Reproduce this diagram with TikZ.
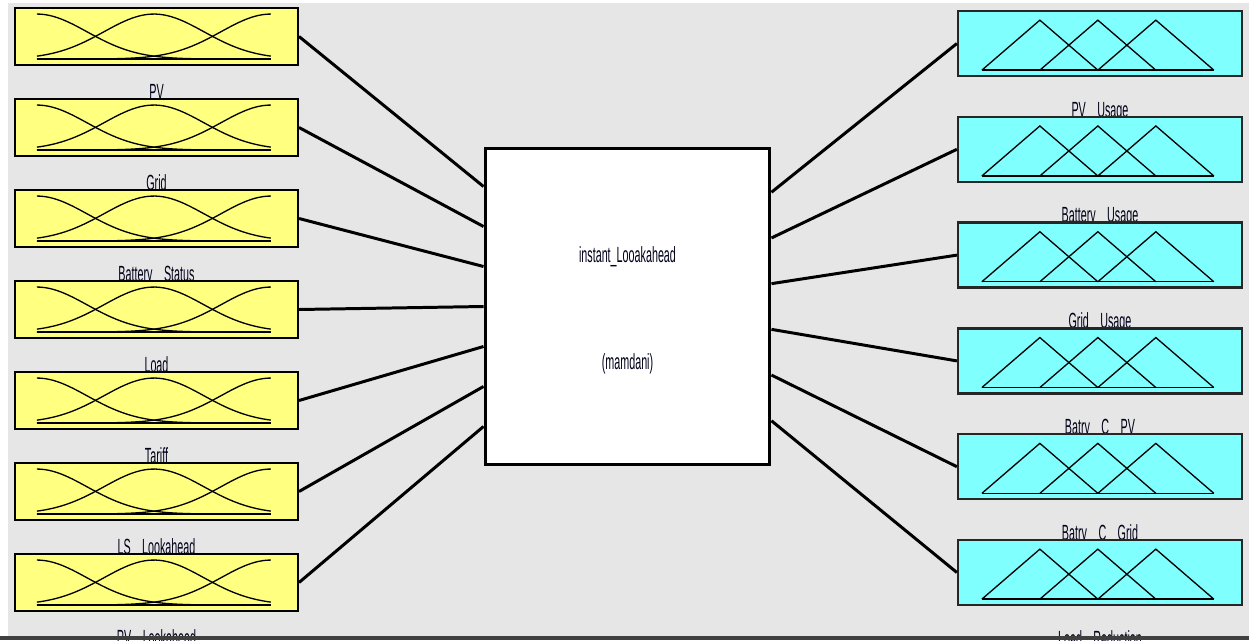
\documentclass[tikz,border=0pt]{standalone}
\usepackage{fontspec}
\newfontfamily\fisfont{Liberation Sans}[FakeStretch=0.49]
\usetikzlibrary{calc}
\newcommand\gap{\hspace{6.5pt}}
\definecolor{inyellow}{HTML}{FFFF80}
\definecolor{outcyan}{HTML}{80FFFF}
\definecolor{panel}{HTML}{E6E6E6}

\begin{document}
\begin{tikzpicture}[x=0.02cm,y=-0.02cm,
  invar/.style={draw=black,line width=1.2pt,fill=inyellow,minimum width=5.66cm,minimum height=1.14cm,inner sep=0pt},
  outvar/.style={draw=black!85,line width=1.3pt,fill=outcyan,minimum width=5.68cm,minimum height=1.3cm,inner sep=0pt},
  lbl/.style={anchor=base,inner sep=0pt,text=black!90!blue,font=\fisfont\fontsize{12.5}{14}\selectfont},
  wire/.style={line width=1.7pt},
  mf/.style={line width=0.75pt}]
\useasboundingbox (0,0) rectangle (1249,640);
\fill[panel] (8,3) rectangle (1249,640);

% the fuzzy system
\node[draw,line width=1.7pt,fill=white,minimum width=5.7cm,minimum height=6.34cm,inner sep=0pt] (fis) at (627.5,306.5) {};
\node[lbl] (fisname) at ([yshift=0.89cm]fis.center) {instant\_Looakahead};
\node[lbl] (fistype) at ([yshift=-1.27cm]fis.center) {(mamdani)};

% inputs
\foreach \name [count=\i] in {PV, Grid, Battery\gap Status, Load, Tariff, LS\gap Lookahead, PV\gap Lookahead}{
  \node[invar] (in\i) at (156.5,{36.5+91*(\i-1)}) {};
  \node[lbl] (inlbl\i) at ([yshift=-0.66cm]in\i.south) {\name};
  \begin{scope}[shift={($(in\i.south west)+(0.46cm,0.14cm)$)},x=4.68cm,y=0.9cm]
    \draw[mf] (0,0) -- (1,0);
    \foreach \c in {0,0.5,1}
      \draw[mf] plot[domain=0:1,samples=60,smooth] (\x,{exp(-(\x-\c)^2/0.0913)});
  \end{scope}
  \draw[wire] (in\i.east) -- ($(fis.north west)!\i/8!(fis.south west)$);
}

% outputs
\foreach \name [count=\j] in {PV\gap Usage, Battery\gap Usage, Grid\gap Usage, Batry\gap C\gap PV, Batry\gap C\gap Grid, Load\gap Reduction}{
  \node[outvar] (out\j) at (1100,{43.5+105.8*(\j-1)}) {};
  \node[lbl] (outlbl\j) at ([yshift=-0.8cm]out\j.south) {\name};
  \begin{scope}[shift={($(out\j.south west)+(0.5cm,0.14cm)$)},x=4.64cm,y=1cm]
    \draw[mf] (0,0) -- (1,0);
    \foreach \a in {0,0.25,0.5}
      \draw[mf] (\a,0) -- (\a+0.25,1) -- (\a+0.5,0);
  \end{scope}
  \draw[wire] ($(fis.north east)!\j/7!(fis.south east)$) -- (out\j.west);
}

\fill[black!75] (0,636) rectangle (1249,640);
\end{tikzpicture}
\end{document}
